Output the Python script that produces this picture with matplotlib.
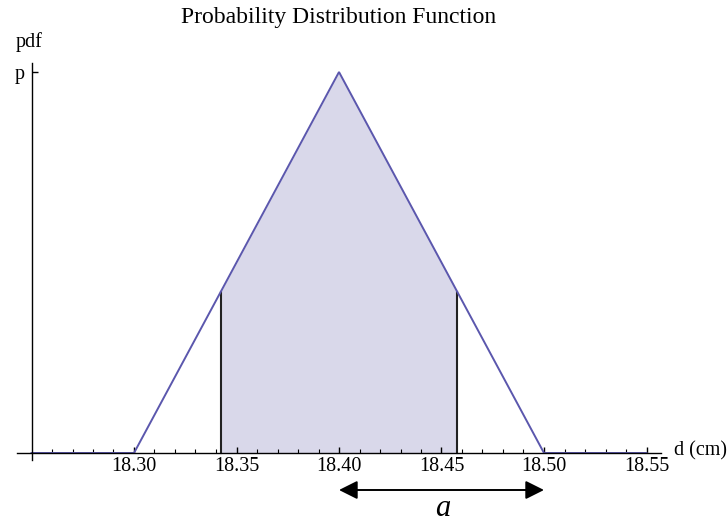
import matplotlib
matplotlib.use("Agg")
import matplotlib.pyplot as plt
import numpy as np

# triangular pdf parameters (cm)
d_low, d_mode, d_high = 18.30, 18.40, 18.50
d_axis_start, d_axis_end = 18.25, 18.55
half_width = d_high - d_mode            # "a"
shade_low = d_mode - half_width / np.sqrt(3)
shade_high = d_mode + half_width / np.sqrt(3)

pdf_x = [d_axis_start, d_low, d_mode, d_high, d_axis_end]
pdf_y = [0.0, 0.0, 1.0, 0.0, 0.0]

major_ticks = [18.30, 18.35, 18.40, 18.45, 18.50, 18.55]
major_labels = ["18.30", "18.35", "18.40", "18.45", "18.50", "18.55"]
minor_ticks = [round(18.26 + 0.01 * i, 2) for i in range(29)]

line_color = "#5b57ad"
fill_color = "#d9d8ea"
serif = "Liberation Serif"

# === figure ===
fig = plt.figure(figsize=(7.27, 5.22), dpi=100)
ax = fig.add_axes([0, 0, 1, 1])
ax.set_facecolor("white")

# pixel scale of the original image
px_x = 2050.0      # px per cm
px_y = 381.0       # px per unit of pdf
x0_px, y0_px = 31.5, 453.0
ax.set_xlim(d_axis_start - x0_px / px_x, d_axis_start + (727 - x0_px) / px_x)
ax.set_ylim(-(522 - y0_px) / px_y, y0_px / px_y)

# shaded area +/- a/sqrt(3)
xs = np.linspace(shade_low, shade_high, 200)
ys = np.interp(xs, pdf_x, pdf_y)
ax.fill_between(xs, 0, ys, color=fill_color, lw=0, zorder=1)
for xb in (shade_low, shade_high):
    ax.plot([xb, xb], [0, np.interp(xb, pdf_x, pdf_y)], color="#222222", lw=1.5, zorder=2)

ax.plot(pdf_x, pdf_y, color=line_color, lw=1.4, zorder=3, solid_joinstyle="miter")

# axes Mathematica-style
for s in ("top", "right"):
    ax.spines[s].set_visible(False)
ax.spines["bottom"].set_position(("data", 0))
ax.spines["left"].set_position(("data", d_axis_start))
ax.spines["bottom"].set_bounds(d_axis_start - 14 / px_x, d_axis_start + 629 / px_x)
ax.spines["left"].set_bounds(-7 / px_y, 390 / px_y)
for s in ("bottom", "left"):
    ax.spines[s].set_linewidth(1.0)
    ax.spines[s].set_zorder(4)

ax.set_xticks(major_ticks)
ax.set_xticklabels(major_labels, fontfamily=serif, fontsize=14.5)
ax.set_xticks(minor_ticks, minor=True)
ax.set_yticks([1.0])
ax.set_yticklabels(["p"], fontfamily=serif, fontsize=14.5)
ax.tick_params(which="major", direction="in", length=4.5, width=1.0, pad=3)
ax.tick_params(which="minor", direction="in", length=3, width=0.8)
ax.tick_params(axis="y", pad=5)

fig.text(339 / 727, 1 - 17 / 522, "Probability Distribution Function",
         ha="center", va="center", fontfamily=serif, fontsize=17)
fig.text(16 / 727, 1 - 42 / 522, "pdf", ha="left", va="center",
         fontfamily=serif, fontsize=14.5)
fig.text(674 / 727, 1 - 451 / 522, "d (cm)", ha="left", va="center",
         fontfamily=serif, fontsize=14.5)

# arrow showing the half-width a
y_arrow = -(490 - y0_px) / px_y
ax.annotate("", xy=(d_mode, y_arrow), xytext=(d_high, y_arrow),
            arrowprops=dict(arrowstyle="<|-|>", mutation_scale=28, lw=1.4,
                            color="black", shrinkA=0, shrinkB=0),
            annotation_clip=False)
ax.text((d_mode + d_high) / 2 + 0.0005, -(516 - y0_px) / px_y, "a",
        ha="center", va="baseline", fontfamily=serif, style="italic", fontsize=22)

fig.savefig("out.png", dpi=100)
